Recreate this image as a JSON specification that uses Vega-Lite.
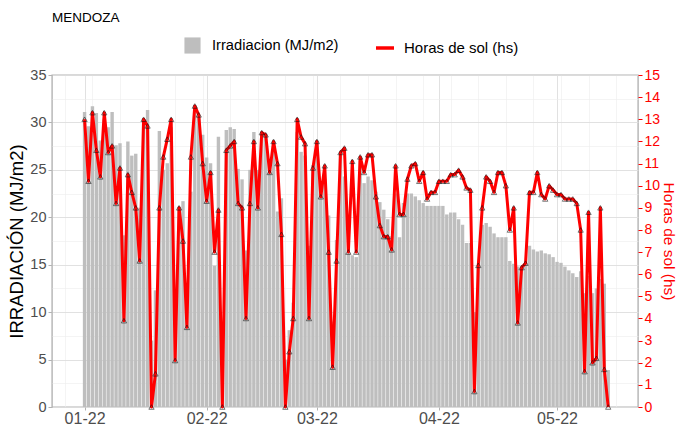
{
  "$schema": "https://vega.github.io/schema/vega-lite/v6.json",
  "width": 586,
  "height": 332,
  "autosize": "none",
  "padding": {"left": 52, "top": 75, "right": 41, "bottom": 18},
  "background": "white",
  "config": {
    "font": "Liberation Sans",
    "view": {"stroke": "#b3b3b3", "strokeWidth": 1.4}
  },
  "title": {"text": "MENDOZA", "anchor": "start", "frame": "group", "fontSize": 13.5, "fontWeight": "normal", "color": "black", "offset": 13},
  "data": {"values": [
{"d":"2022-01-01","irr":31.1,"h":13.0},{"d":"2022-01-02","irr":29.6,"h":10.2},{"d":"2022-01-03","irr":31.7,"h":13.3},{"d":"2022-01-04","irr":31.0,"h":11.6},{"d":"2022-01-05","irr":28.1,"h":10.4},{"d":"2022-01-06","irr":30.4,"h":13.3},{"d":"2022-01-07","irr":29.5,"h":11.5},{"d":"2022-01-08","irr":31.1,"h":11.8},{"d":"2022-01-09","irr":27.6,"h":9.2},{"d":"2022-01-10","irr":27.8,"h":10.8},
{"d":"2022-01-11","irr":18.1,"h":3.9},{"d":"2022-01-12","irr":28.0,"h":10.5},{"d":"2022-01-13","irr":26.5,"h":9.7},{"d":"2022-01-14","irr":26.7,"h":9.0},{"d":"2022-01-15","irr":21.0,"h":6.6},{"d":"2022-01-16","irr":30.4,"h":13.0},{"d":"2022-01-17","irr":31.3,"h":12.7},{"d":"2022-01-18","irr":7.0,"h":0.0},{"d":"2022-01-19","irr":12.3,"h":1.5},{"d":"2022-01-20","irr":29.1,"h":9.0},
{"d":"2022-01-21","irr":25.0,"h":11.3},{"d":"2022-01-22","irr":25.7,"h":12.1},{"d":"2022-01-23","irr":29.5,"h":13.0},{"d":"2022-01-24","irr":10.0,"h":2.1},{"d":"2022-01-25","irr":21.1,"h":9.0},{"d":"2022-01-26","irr":21.7,"h":7.5},{"d":"2022-01-27","irr":12.0,"h":3.6},{"d":"2022-01-28","irr":22.7,"h":11.3},{"d":"2022-01-29","irr":31.8,"h":13.6},{"d":"2022-01-30","irr":30.6,"h":13.2},
{"d":"2022-01-31","irr":28.7,"h":11.0},{"d":"2022-02-01","irr":26.3,"h":9.3},{"d":"2022-02-02","irr":25.7,"h":10.6},{"d":"2022-02-03","irr":14.9,"h":7.0},{"d":"2022-02-04","irr":28.5,"h":8.9},{"d":"2022-02-05","irr":6.0,"h":0.0},{"d":"2022-02-06","irr":29.2,"h":11.6},{"d":"2022-02-07","irr":29.5,"h":11.8},{"d":"2022-02-08","irr":29.3,"h":12.0},{"d":"2022-02-09","irr":25.1,"h":9.2},
{"d":"2022-02-10","irr":24.0,"h":9.0},{"d":"2022-02-11","irr":16.5,"h":4.0},{"d":"2022-02-12","irr":25.0,"h":9.2},{"d":"2022-02-13","irr":29.0,"h":12.0},{"d":"2022-02-14","irr":25.0,"h":9.0},{"d":"2022-02-15","irr":29.0,"h":12.4},{"d":"2022-02-16","irr":28.8,"h":12.3},{"d":"2022-02-17","irr":25.0,"h":10.6},{"d":"2022-02-18","irr":27.5,"h":12.0},{"d":"2022-02-19","irr":20.6,"h":11.0},
{"d":"2022-02-20","irr":22.0,"h":7.8},{"d":"2022-02-21","irr":5.0,"h":0.0},{"d":"2022-02-22","irr":8.1,"h":2.5},{"d":"2022-02-23","irr":11.0,"h":4.0},{"d":"2022-02-24","irr":29.0,"h":13.0},{"d":"2022-02-25","irr":26.9,"h":12.2},{"d":"2022-02-26","irr":26.5,"h":11.9},{"d":"2022-02-27","irr":17.0,"h":4.0},{"d":"2022-02-28","irr":25.5,"h":10.8},{"d":"2022-03-01","irr":28.1,"h":12.0},
{"d":"2022-03-02","irr":23.5,"h":9.5},{"d":"2022-03-03","irr":24.0,"h":10.9},{"d":"2022-03-04","irr":20.2,"h":7.0},{"d":"2022-03-05","irr":9.0,"h":1.8},{"d":"2022-03-06","irr":17.6,"h":6.6},{"d":"2022-03-07","irr":26.5,"h":11.5},{"d":"2022-03-08","irr":24.3,"h":11.7},{"d":"2022-03-09","irr":16.2,"h":7.0},{"d":"2022-03-10","irr":16.0,"h":11.1},{"d":"2022-03-11","irr":15.8,"h":7.0},
{"d":"2022-03-12","irr":26.0,"h":11.3},{"d":"2022-03-13","irr":23.6,"h":10.6},{"d":"2022-03-14","irr":24.3,"h":11.4},{"d":"2022-03-15","irr":23.9,"h":11.4},{"d":"2022-03-16","irr":22.7,"h":9.5},{"d":"2022-03-17","irr":21.6,"h":8.2},{"d":"2022-03-18","irr":20.8,"h":7.7},{"d":"2022-03-19","irr":19.8,"h":7.7},{"d":"2022-03-20","irr":18.0,"h":7.1},{"d":"2022-03-21","irr":22.5,"h":10.9},
{"d":"2022-03-22","irr":17.9,"h":8.7},{"d":"2022-03-23","irr":21.5,"h":8.7},{"d":"2022-03-24","irr":22.5,"h":10.3},{"d":"2022-03-25","irr":22.5,"h":10.9},{"d":"2022-03-26","irr":22.2,"h":11.0},{"d":"2022-03-27","irr":21.8,"h":10.2},{"d":"2022-03-28","irr":21.5,"h":10.6},{"d":"2022-03-29","irr":21.2,"h":9.4},{"d":"2022-03-30","irr":21.2,"h":9.7},{"d":"2022-03-31","irr":21.2,"h":9.7},
{"d":"2022-04-01","irr":21.2,"h":10.2},{"d":"2022-04-02","irr":21.2,"h":10.2},{"d":"2022-04-03","irr":20.3,"h":10.2},{"d":"2022-04-04","irr":20.5,"h":10.5},{"d":"2022-04-05","irr":20.5,"h":10.5},{"d":"2022-04-06","irr":19.8,"h":10.7},{"d":"2022-04-07","irr":19.2,"h":10.4},{"d":"2022-04-08","irr":17.3,"h":9.9},{"d":"2022-04-09","irr":17.3,"h":9.8},{"d":"2022-04-10","irr":10.0,"h":0.7},
{"d":"2022-04-11","irr":14.8,"h":6.4},{"d":"2022-04-12","irr":19.2,"h":9.0},{"d":"2022-04-13","irr":19.4,"h":10.4},{"d":"2022-04-14","irr":19.0,"h":10.2},{"d":"2022-04-15","irr":18.3,"h":9.7},{"d":"2022-04-16","irr":17.9,"h":10.6},{"d":"2022-04-17","irr":17.9,"h":10.6},{"d":"2022-04-18","irr":17.9,"h":10.0},{"d":"2022-04-19","irr":15.4,"h":8.0},{"d":"2022-04-20","irr":15.1,"h":9.0},
{"d":"2022-04-21","irr":14.8,"h":3.8},{"d":"2022-04-22","irr":14.8,"h":6.3},{"d":"2022-04-23","irr":15.3,"h":6.5},{"d":"2022-04-24","irr":17.0,"h":9.7},{"d":"2022-04-25","irr":16.6,"h":9.7},{"d":"2022-04-26","irr":16.4,"h":10.6},{"d":"2022-04-27","irr":16.5,"h":9.6},{"d":"2022-04-28","irr":16.2,"h":9.4},{"d":"2022-04-29","irr":16.1,"h":10.0},{"d":"2022-04-30","irr":15.8,"h":9.8},
{"d":"2022-05-01","irr":15.3,"h":9.6},{"d":"2022-05-02","irr":15.2,"h":9.6},{"d":"2022-05-03","irr":14.8,"h":9.4},{"d":"2022-05-04","irr":14.4,"h":9.4},{"d":"2022-05-05","irr":14.1,"h":9.4},{"d":"2022-05-06","irr":13.7,"h":9.2},{"d":"2022-05-07","irr":14.3,"h":8.0},{"d":"2022-05-08","irr":12.0,"h":1.6},{"d":"2022-05-09","irr":13.8,"h":8.8},{"d":"2022-05-10","irr":12.0,"h":2.0},
{"d":"2022-05-11","irr":12.5,"h":2.2},{"d":"2022-05-12","irr":13.5,"h":9.0},{"d":"2022-05-13","irr":13.0,"h":1.7},{"d":"2022-05-14","irr":3.9,"h":0.0}
  ]},
  "encoding": {
    "x": {
      "field": "d", "type": "temporal", "title": null,
      "scale": {"type": "utc", "domain": [{"year": 2021, "month": 12, "date": 25, "utc": true}, {"year": 2022, "month": 5, "date": 20, "hours": 7, "utc": true}]},
      "axis": {
        "values": [
          {"year": 2021, "month": 12, "date": 27, "utc": true},
          {"year": 2022, "month": 1, "date": 1, "utc": true},
          {"year": 2022, "month": 1, "date": 3, "utc": true},
          {"year": 2022, "month": 1, "date": 10, "utc": true},
          {"year": 2022, "month": 1, "date": 17, "utc": true},
          {"year": 2022, "month": 1, "date": 24, "utc": true},
          {"year": 2022, "month": 1, "date": 31, "utc": true},
          {"year": 2022, "month": 2, "date": 1, "utc": true},
          {"year": 2022, "month": 2, "date": 7, "utc": true},
          {"year": 2022, "month": 2, "date": 14, "utc": true},
          {"year": 2022, "month": 2, "date": 21, "utc": true},
          {"year": 2022, "month": 2, "date": 28, "utc": true},
          {"year": 2022, "month": 3, "date": 1, "utc": true},
          {"year": 2022, "month": 3, "date": 7, "utc": true},
          {"year": 2022, "month": 3, "date": 14, "utc": true},
          {"year": 2022, "month": 3, "date": 21, "utc": true},
          {"year": 2022, "month": 3, "date": 28, "utc": true},
          {"year": 2022, "month": 4, "date": 1, "utc": true},
          {"year": 2022, "month": 4, "date": 4, "utc": true},
          {"year": 2022, "month": 4, "date": 11, "utc": true},
          {"year": 2022, "month": 4, "date": 18, "utc": true},
          {"year": 2022, "month": 4, "date": 25, "utc": true},
          {"year": 2022, "month": 5, "date": 1, "utc": true},
          {"year": 2022, "month": 5, "date": 2, "utc": true},
          {"year": 2022, "month": 5, "date": 9, "utc": true},
          {"year": 2022, "month": 5, "date": 16, "utc": true}
        ],
        "labelExpr": "utcdate(datum.value) === 1 ? utcFormat(datum.value, '%m-%y') : ''",
        "labelFontSize": 16, "labelColor": "#4d4d4d", "labelPadding": 0, "labelFlush": false, "labelOverlap": false,
        "domain": false,
        "grid": true,
        "tickSize": 3,
        "tickColor": {"condition": {"test": "utcdate(datum.value) === 1", "value": "#b3b3b3"}, "value": "transparent"},
        "gridColor": {"condition": {"test": "utcdate(datum.value) === 1", "value": "#dedede"}, "value": "#ececec"},
        "gridWidth": {"condition": {"test": "utcdate(datum.value) === 1", "value": 0.9}, "value": 0.6}
      }
    }
  },
  "layer": [
    {
      "mark": {"type": "bar", "width": 3.4},
      "encoding": {
        "y": {
          "field": "irr", "type": "quantitative",
          "scale": {"domain": [0, 35], "nice": false},
          "axis": {
            "title": "IRRADIACIÓN (MJ/m2)", "titleFontSize": 18.5, "titleFontWeight": "normal", "titleColor": "black", "titlePadding": 3,
            "values": [0, 2.5, 5, 7.5, 10, 12.5, 15, 17.5, 20, 22.5, 25, 27.5, 30, 32.5, 35],
            "labelExpr": "datum.value % 5 === 0 ? datum.label : ''",
            "labelFontSize": 14.5, "labelColor": "#4d4d4d", "labelPadding": 2, "labelOverlap": false,
            "domain": false, "tickSize": 4,
            "tickColor": {"condition": {"test": "datum.value % 5 === 0", "value": "#b3b3b3"}, "value": "transparent"},
            "gridColor": {"condition": {"test": "datum.value % 5 === 0", "value": "#dedede"}, "value": "#ececec"},
            "gridWidth": {"condition": {"test": "datum.value % 5 === 0", "value": 0.9}, "value": 0.6}
          }
        },
        "fill": {
          "datum": "Irradiacion (MJ/m2)",
          "scale": {"range": ["#bebebe"]},
          "legend": {"title": null, "orient": "none", "legendX": 132, "legendY": -38, "symbolType": "square", "symbolSize": 260, "symbolStrokeWidth": 0, "labelFontSize": 14.7, "labelColor": "black", "labelOffset": 11}
        }
      }
    },
    {
      "encoding": {
        "y": {"field": "h", "type": "quantitative", "scale": {"domain": [0, 15], "nice": false},
          "axis": {"orient": "right", "title": "Horas de sol (hs)", "titleFontSize": 15.5, "titleFontWeight": "normal", "titleColor": "red", "titlePadding": 1,
            "values": [0,1,2,3,4,5,6,7,8,9,10,11,12,13,14,15], "labelFontSize": 14, "labelColor": "red", "labelPadding": 2, "labelOverlap": false,
            "domain": false, "grid": false, "tickSize": 4, "tickColor": "red"}}
      },
      "layer": [
        {
          "mark": {"type": "line", "strokeWidth": 3, "strokeJoin": "round"},
          "encoding": {
            "stroke": {
              "datum": "Horas de sol (hs)",
              "scale": {"range": ["red"]},
              "legend": {"title": null, "orient": "none", "legendX": 322, "legendY": -38, "symbolType": "stroke", "symbolSize": 324, "symbolStrokeWidth": 3.5, "labelFontSize": 15, "labelColor": "black", "labelOffset": 8}
            }
          }
        },
        {
          "mark": {"type": "point", "shape": "triangle-up", "filled": false, "stroke": "#111111", "strokeWidth": 0.8, "size": 28}
        }
      ]
    }
  ],
  "resolve": {"scale": {"y": "independent"}}
}
